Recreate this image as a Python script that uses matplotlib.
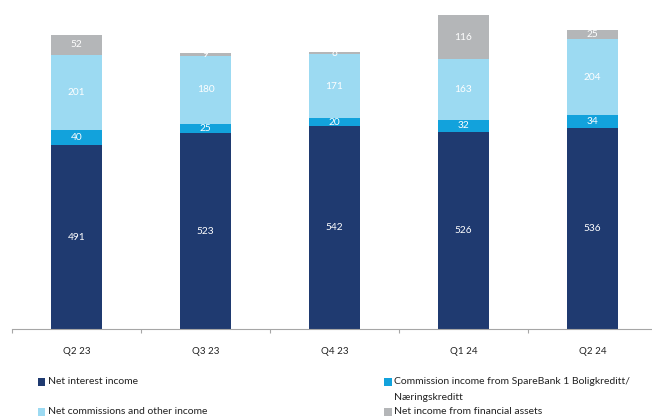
import matplotlib
matplotlib.use("Agg")
import matplotlib.pyplot as plt
from matplotlib.patches import Rectangle

plt.rcParams['font.family'] = ['Lato', 'DejaVu Sans']

categories = ["Q2 23", "Q3 23", "Q4 23", "Q1 24", "Q2 24"]
series_names = [
    "Net interest income",
    "Commission income from SpareBank 1 Boligkreditt/\nNæringskreditt",
    "Net commissions and other income",
    "Net income from financial assets",
]
net_interest = [491, 523, 542, 526, 536]
commission_sb1 = [40, 25, 20, 32, 34]
net_commissions = [201, 180, 171, 163, 204]
financial_assets = [52, 9, 6, 116, 25]
colors = ["#1f3a70", "#12a2dc", "#9cdaf2", "#b4b6b8"]

W, H = 652, 417
fig = plt.figure(figsize=(W / 100, H / 100), dpi=100)
base_y = 329
top_y = 3
ax = fig.add_axes([12 / W, (H - base_y) / H, 645 / W, (base_y - top_y) / H])

series = [net_interest, commission_sb1, net_commissions, financial_assets]
x = list(range(len(categories)))
bottom = [0] * len(categories)
for vals, c in zip(series, colors):
    ax.bar(x, vals, bottom=bottom, width=0.4, color=c, linewidth=0)
    for i, v in enumerate(vals):
        ax.text(x[i], bottom[i] + v / 2, str(v), ha='center', va='center',
                color='white', fontsize=7.3)
    bottom = [b + v for b, v in zip(bottom, vals)]

ax.set_xlim(-0.5, len(categories) - 0.5)
ax.set_ylim(0, 870)
for s in ['top', 'right', 'left']:
    ax.spines[s].set_visible(False)
ax.spines['bottom'].set_color('#a6a6a6')
ax.spines['bottom'].set_linewidth(0.8)
ax.set_yticks([])
ax.set_xticks([i - 0.5 for i in range(len(categories) + 1)], minor=False)
ax.set_xticklabels([])
ax.set_xticks(x, minor=True)
ax.set_xticklabels(categories, minor=True)
ax.tick_params(axis='x', which='major', length=3, width=0.8, color='#a6a6a6')
ax.tick_params(axis='x', which='minor', length=0, pad=13, labelsize=7, labelcolor='#222222')

# Legend (manual)
items = [
    (37.5, 382, 0, 48),
    (384, 382, 1, 394),
    (37.5, 412, 2, 48),
    (384, 412, 3, 394),
]
for mx, my, k, tx in items:
    fig.patches.append(Rectangle((mx / W, (H - my - 4) / H), 7.5 / W, 8 / H,
                                 transform=fig.transFigure, color=colors[k], linewidth=0))
    if k == 1:
        fig.text(tx / W, (H - my) / H, series_names[k].split("\n")[0], ha='left', va='center',
                 fontsize=7.5, color='#222222')
        fig.text(tx / W, (H - 398) / H, series_names[k].split("\n")[1], ha='left', va='center',
                 fontsize=7.5, color='#222222')
    else:
        fig.text(tx / W, (H - my) / H, series_names[k], ha='left', va='center',
                 fontsize=7.5, color='#222222')

fig.savefig("out.png", dpi=100)
